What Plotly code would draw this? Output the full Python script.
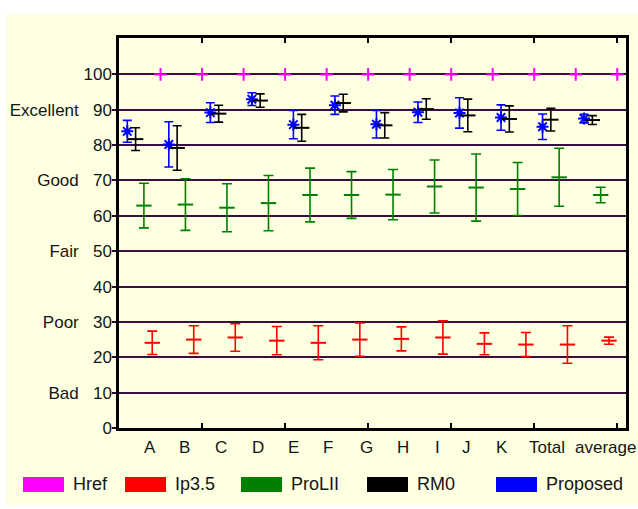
import plotly.graph_objects as go

# ---------------- data ----------------
groups = ["A", "B", "C", "D", "E", "F", "G", "H", "I", "J", "K", "Total"]
cat_labels = ["A", "B", "C", "D", "E", "F", "G", "H", "I", "J", "K", "Total", "average"]

proposed_mean = [83.9, 80.2, 89.2, 93.0, 85.8, 91.3, 85.9, 89.3, 89.1, 87.8, 85.2, 87.5]
proposed_err  = [3.1, 6.4, 2.8, 1.8, 4.0, 2.6, 3.9, 2.9, 4.3, 3.6, 3.6, 1.2]

rm0_mean = [81.7, 79.2, 88.9, 92.6, 84.9, 91.9, 85.6, 90.2, 88.4, 87.4, 87.2, 87.1]
rm0_err  = [3.2, 6.3, 2.4, 1.9, 3.8, 2.5, 3.6, 2.9, 4.6, 3.7, 3.2, 1.25]

prolii_mean = [62.9, 63.2, 62.3, 63.6, 65.9, 65.9, 66.0, 68.3, 68.0, 67.6, 70.9, 65.9]
prolii_err  = [6.3, 7.3, 6.8, 7.8, 7.6, 6.6, 7.1, 7.5, 9.5, 7.5, 8.2, 2.2]

ip35_mean = [24.1, 25.0, 25.6, 24.7, 24.1, 25.0, 25.2, 25.6, 23.8, 23.6, 23.6, 24.7]
ip35_err  = [3.3, 3.9, 3.9, 4.0, 4.8, 4.7, 3.4, 4.7, 3.1, 3.4, 5.3, 1.0]

href_mean = [100, 100, 100, 100, 100, 100, 100, 100, 100, 100, 100, 100]

NB = "\u00a0"
y_tickvals = [0, 10, 20, 30, 40, 50, 60, 70, 80, 90, 100]
y_ticktext = ["0", "Bad" + NB * 3 + "10", "20", "Poor" + NB * 3 + "30", "40",
              "Fair" + NB * 3 + "50", "60", "Good" + NB * 3 + "70", "80",
              "Excellent" + NB * 3 + "90", "100"]

# label anchor positions along the x axis (axis units)
cat_label_x = [0.74, 1.58, 2.45, 3.34, 4.21, 5.03, 5.95, 6.84, 7.66, 8.36, 9.23, 10.31, 11.71]

# ---------------- layout helpers ----------------
W, H = 638, 509
PL, PR, PT, PB = 119, 626, 38, 428  # plot area in pixels


def pxx(p):
    return (p - PL) / (PR - PL)


def pxy(p):
    return (PB - p) / (PB - PT)


BG = "#FFFFE1"
TXT = "#151515"
FONT = "Liberation Sans, Arial, sans-serif"

series = [
    ("Proposed", proposed_mean, proposed_err, 0.2, "#0000FF", "asterisk", 10, 4.5),
    ("RM0", rm0_mean, rm0_err, 0.4, "#000000", "line-ew", 11, 4.5),
    ("ProLII", prolii_mean, prolii_err, 0.6, "#008000", "line-ew", 11, 5),
    ("Ip3.5", ip35_mean, ip35_err, 0.8, "#FF0000", "line-ew", 11, 5),
    ("Href", href_mean, None, 1.0, "#FF00FF", "cross-thin", 9, 0),
]

fig = go.Figure()
for name, mean, err, off, col, sym, size, capw in series:
    xs = [i + off for i in range(len(groups))]
    kw = {}
    if err is not None:
        kw["error_y"] = dict(type="data", array=err, visible=True, color=col,
                             thickness=1.6, width=capw)
    fig.add_trace(go.Scatter(
        x=xs, y=mean, mode="markers", name=name, showlegend=False,
        marker=dict(symbol=sym, size=size, color=col,
                    line=dict(color=col, width=2)),
        **kw))

shapes = [dict(type="rect", xref="paper", yref="paper", layer="below",
               x0=pxx(6), x1=pxx(640), y0=pxy(505), y1=pxy(14),
               fillcolor=BG, line=dict(width=0))]
annotations = []

for lab, lx in zip(cat_labels, cat_label_x):
    annotations.append(dict(x=lx, y=pxy(447), xref="x", yref="paper", text=lab,
                            showarrow=False, xanchor="center", yanchor="middle",
                            font=dict(size=17, color=TXT, family=FONT)))

# manual legend
legend_items = [("Href", "#FF00FF", 23), ("Ip3.5", "#FF0000", 125),
                ("ProLII", "#008000", 241), ("RM0", "#000000", 367),
                ("Proposed", "#0000FF", 496)]
for name, col, x0 in legend_items:
    shapes.append(dict(type="rect", xref="paper", yref="paper",
                       x0=pxx(x0), x1=pxx(x0 + 41), y0=pxy(492), y1=pxy(477),
                       fillcolor=col, line=dict(width=0)))
    annotations.append(dict(x=pxx(x0 + 48), y=pxy(484), xref="paper", yref="paper",
                            text=name, showarrow=False, xanchor="left",
                            yanchor="middle",
                            font=dict(size=18, color=TXT, family=FONT)))

fig.update_layout(
    width=W, height=H, autosize=False,
    margin=dict(l=PL, r=W - PR, t=PT, b=H - PB, pad=0),
    paper_bgcolor="white", plot_bgcolor=BG,
    showlegend=False,
    font=dict(family=FONT, size=17, color=TXT),
    shapes=shapes, annotations=annotations,
    xaxis=dict(range=[0, 12.21], tickvals=[0, 2, 4, 6, 8, 10, 12],
               showticklabels=False, ticks="inside", ticklen=5, tickwidth=2,
               tickcolor="black", showline=True, linecolor="black",
               linewidth=2.5, mirror="ticks", showgrid=False, zeroline=False,
               fixedrange=True),
    yaxis=dict(range=[0, 110.3], tickvals=y_tickvals, ticktext=y_ticktext,
               ticks="outside", ticklen=4, tickwidth=2, tickcolor="#2a0a2e",
               showline=True, linecolor="black", linewidth=2.5, mirror=True,
               showgrid=True, gridcolor="#3a0d3f", gridwidth=2,
               zeroline=False, ticklabelstandoff=-3, automargin=False,
               tickfont=dict(size=17, color=TXT, family=FONT), fixedrange=True),
)

fig.write_html(
    "out.html",
    config={"displayModeBar": False},
    post_script=(
        "document.documentElement.style.margin='0';"
        "document.body.style.margin='0';document.body.style.padding='0';"
        "document.body.style.overflow='hidden';"
        "var gd=document.getElementsByClassName('plotly-graph-div')[0];"
        "gd.style.position='absolute';gd.style.left='0px';gd.style.top='0px';"
    ),
)
